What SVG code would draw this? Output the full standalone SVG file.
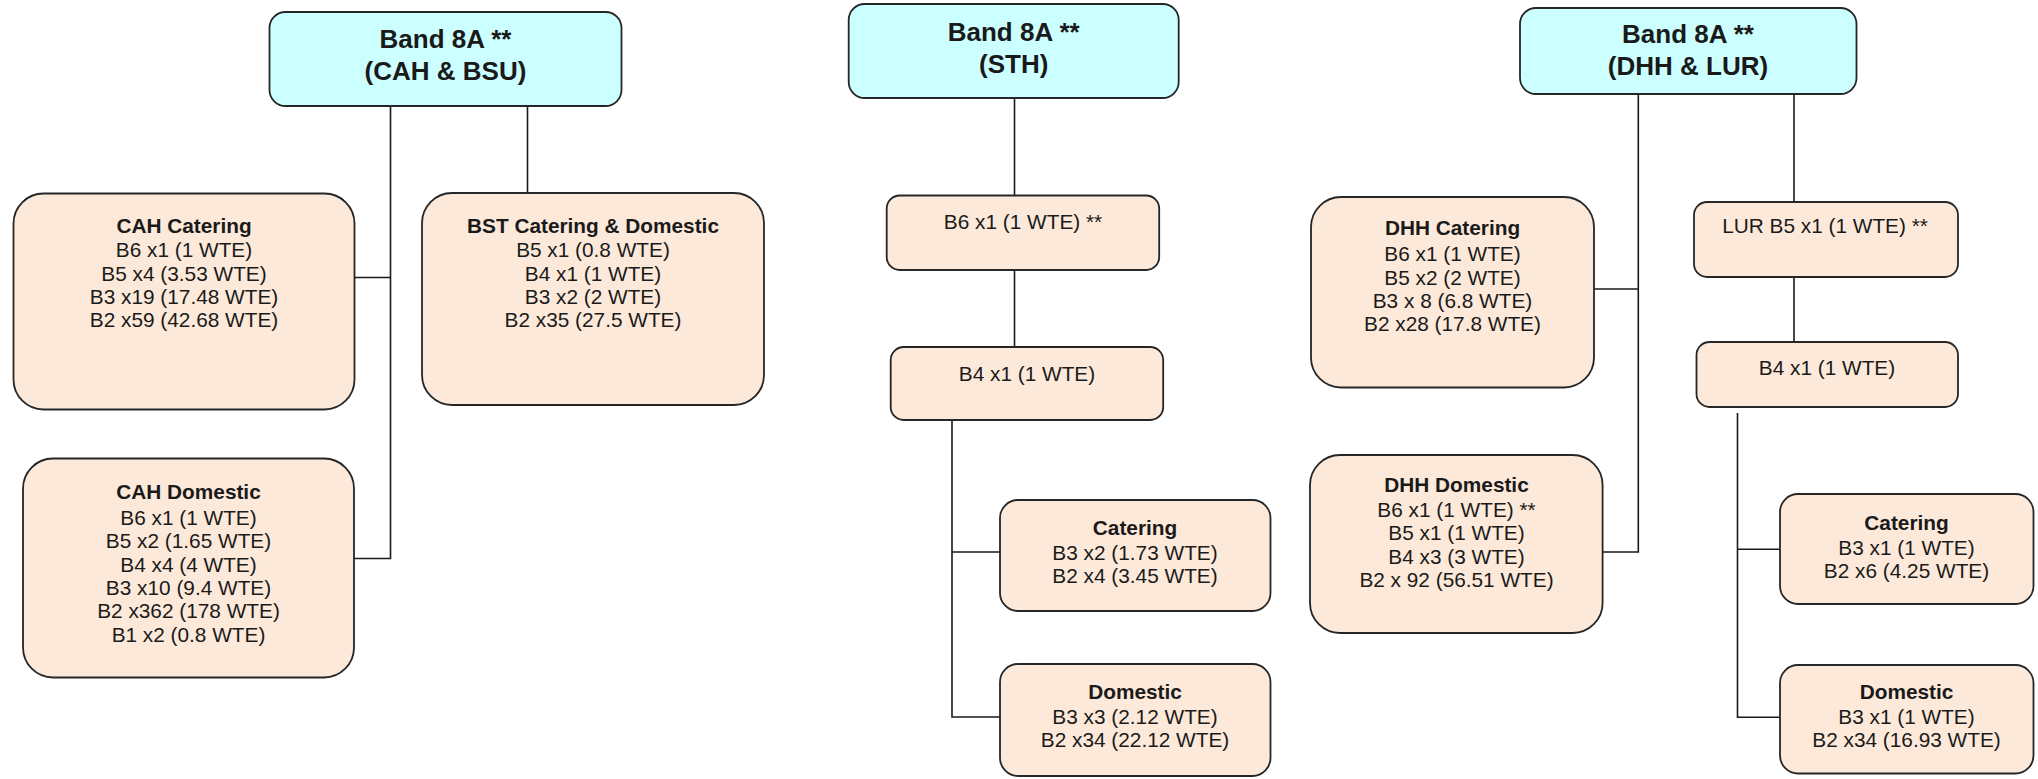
<svg xmlns="http://www.w3.org/2000/svg" width="2038" height="779" viewBox="0 0 2038 779">
<style>
  .top { fill: #CCFFFF; stroke: #262626; stroke-width: 1.8; }
  .box { fill: #FDE9D9; stroke: #262626; stroke-width: 1.8; }
  .ttl { font-family: "Liberation Sans", Arial, sans-serif; font-size: 26px; font-weight: bold; fill: #1a1a1a; text-anchor: middle; }
  .hd { font-family: "Liberation Sans", Arial, sans-serif; font-size: 20.8px; font-weight: bold; fill: #1a1a1a; text-anchor: middle; }
  .tx { font-family: "Liberation Sans", Arial, sans-serif; font-size: 20.8px; fill: #1a1a1a; text-anchor: middle; }
  .ln { fill: none; stroke: #1a1a1a; stroke-width: 1.6; }
</style>
<rect width="2038" height="779" fill="#ffffff"/>

<g id="connectors">
  <!-- Column A -->
  <path class="ln" d="M390.5,106 V558.5 H354"/>
  <path class="ln" d="M354,277.5 H390.5"/>
  <path class="ln" d="M527.5,106 V193"/>
  <!-- Column B -->
  <path class="ln" d="M1014.5,98 V195.5"/>
  <path class="ln" d="M1014.5,270 V347"/>
  <path class="ln" d="M952,420 V717 H1000"/>
  <path class="ln" d="M952,552 H1000"/>
  <!-- Column C -->
  <path class="ln" d="M1638.3,94 V552 H1602.6"/>
  <path class="ln" d="M1594,289 H1638.3"/>
  <path class="ln" d="M1794,94 V202"/>
  <path class="ln" d="M1794,277 V342"/>
  <path class="ln" d="M1737.5,413 V717.3 H1780"/>
  <path class="ln" d="M1737.5,549.3 H1780"/>
</g>

<g id="band8a-cah-bsu">
  <rect class="top" x="269.5" y="12" width="352" height="94" rx="16"/>
  <text class="ttl" x="445.5" y="48">Band 8A **</text>
  <text class="ttl" x="445.5" y="80">(CAH &amp; BSU)</text>
</g>

<g id="cah-catering">
  <rect class="box" x="13.5" y="193.5" width="341" height="216" rx="30"/>
  <text class="hd" x="184" y="232.5">CAH Catering</text>
  <text class="tx" x="184" y="257.3">B6 x1 (1 WTE)</text>
  <text class="tx" x="184" y="280.6">B5 x4 (3.53 WTE)</text>
  <text class="tx" x="184" y="304">B3 x19 (17.48 WTE)</text>
  <text class="tx" x="184" y="327.3">B2 x59 (42.68 WTE)</text>
</g>

<g id="bst-catering-domestic">
  <rect class="box" x="422" y="193" width="342" height="212" rx="30"/>
  <text class="hd" x="593" y="232.5">BST Catering &amp; Domestic</text>
  <text class="tx" x="593" y="257.3">B5 x1 (0.8 WTE)</text>
  <text class="tx" x="593" y="280.6">B4 x1 (1 WTE)</text>
  <text class="tx" x="593" y="304">B3 x2 (2 WTE)</text>
  <text class="tx" x="593" y="327.3">B2 x35 (27.5 WTE)</text>
</g>

<g id="cah-domestic">
  <rect class="box" x="23" y="458.5" width="331" height="219" rx="30"/>
  <text class="hd" x="188.5" y="499.3">CAH Domestic</text>
  <text class="tx" x="188.5" y="525">B6 x1 (1 WTE)</text>
  <text class="tx" x="188.5" y="548.3">B5 x2 (1.65 WTE)</text>
  <text class="tx" x="188.5" y="571.6">B4 x4 (4 WTE)</text>
  <text class="tx" x="188.5" y="594.9">B3 x10 (9.4 WTE)</text>
  <text class="tx" x="188.5" y="618.2">B2 x362 (178 WTE)</text>
  <text class="tx" x="188.5" y="641.5">B1 x2 (0.8 WTE)</text>
</g>

<g id="band8a-sth">
  <rect class="top" x="848.7" y="4" width="330" height="94" rx="16"/>
  <text class="ttl" x="1013.7" y="40.5">Band 8A **</text>
  <text class="ttl" x="1013.7" y="72.5">(STH)</text>
</g>

<g id="sth-b6">
  <rect class="box" x="886.7" y="195.5" width="272.5" height="74.5" rx="13"/>
  <text class="tx" x="1023" y="229.3">B6 x1 (1 WTE) **</text>
</g>

<g id="sth-b4">
  <rect class="box" x="890.7" y="347" width="272.5" height="73" rx="13"/>
  <text class="tx" x="1027" y="381">B4 x1 (1 WTE)</text>
</g>

<g id="sth-catering">
  <rect class="box" x="1000" y="500" width="270.5" height="111" rx="18"/>
  <text class="hd" x="1135" y="535">Catering</text>
  <text class="tx" x="1135" y="560">B3 x2 (1.73 WTE)</text>
  <text class="tx" x="1135" y="583.3">B2 x4 (3.45 WTE)</text>
</g>

<g id="sth-domestic">
  <rect class="box" x="1000" y="664" width="270.5" height="112" rx="18"/>
  <text class="hd" x="1135" y="698.5">Domestic</text>
  <text class="tx" x="1135" y="723.8">B3 x3 (2.12 WTE)</text>
  <text class="tx" x="1135" y="747.1">B2 x34 (22.12 WTE)</text>
</g>

<g id="band8a-dhh-lur">
  <rect class="top" x="1520" y="8" width="336.5" height="86" rx="16"/>
  <text class="ttl" x="1688" y="43">Band 8A **</text>
  <text class="ttl" x="1688" y="75">(DHH &amp; LUR)</text>
</g>

<g id="dhh-catering">
  <rect class="box" x="1311" y="197" width="283" height="190.5" rx="30"/>
  <text class="hd" x="1452.5" y="235">DHH Catering</text>
  <text class="tx" x="1452.5" y="261.3">B6 x1 (1 WTE)</text>
  <text class="tx" x="1452.5" y="284.6">B5 x2 (2 WTE)</text>
  <text class="tx" x="1452.5" y="307.9">B3 x 8 (6.8 WTE)</text>
  <text class="tx" x="1452.5" y="331.2">B2 x28 (17.8 WTE)</text>
</g>

<g id="dhh-domestic">
  <rect class="box" x="1310" y="455" width="292.6" height="178" rx="30"/>
  <text class="hd" x="1456.5" y="492">DHH Domestic</text>
  <text class="tx" x="1456.5" y="517">B6 x1 (1 WTE) **</text>
  <text class="tx" x="1456.5" y="540.3">B5 x1 (1 WTE)</text>
  <text class="tx" x="1456.5" y="563.6">B4 x3 (3 WTE)</text>
  <text class="tx" x="1456.5" y="586.9">B2 x 92 (56.51 WTE)</text>
</g>

<g id="lur-b5">
  <rect class="box" x="1694" y="202" width="264" height="75" rx="13"/>
  <text class="tx" x="1825" y="233.3">LUR B5 x1 (1 WTE) **</text>
</g>

<g id="lur-b4">
  <rect class="box" x="1696.5" y="342" width="261.5" height="65" rx="13"/>
  <text class="tx" x="1827" y="375">B4 x1 (1 WTE)</text>
</g>

<g id="lur-catering">
  <rect class="box" x="1780" y="494" width="253.5" height="110" rx="18"/>
  <text class="hd" x="1906.5" y="530">Catering</text>
  <text class="tx" x="1906.5" y="554.5">B3 x1 (1 WTE)</text>
  <text class="tx" x="1906.5" y="577.8">B2 x6 (4.25 WTE)</text>
</g>

<g id="lur-domestic">
  <rect class="box" x="1780" y="665" width="253.5" height="108.5" rx="18"/>
  <text class="hd" x="1906.5" y="698.5">Domestic</text>
  <text class="tx" x="1906.5" y="723.5">B3 x1 (1 WTE)</text>
  <text class="tx" x="1906.5" y="746.8">B2 x34 (16.93 WTE)</text>
</g>
</svg>
